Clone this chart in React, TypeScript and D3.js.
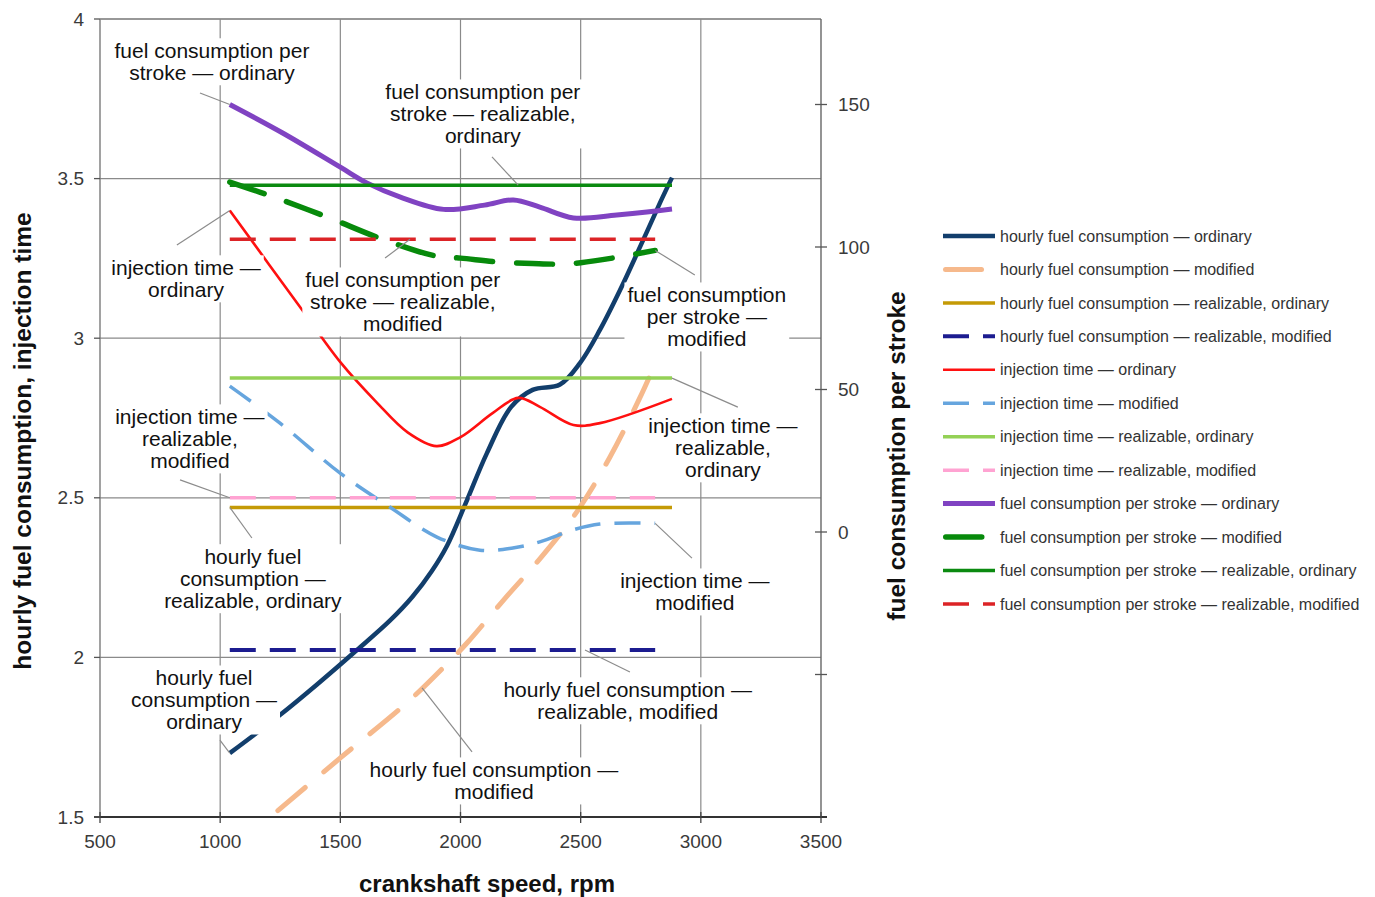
import React, { useEffect, useRef } from 'react';
import * as d3 from 'd3';

const W = 1375;
const H = 897;
const FONT = '"Liberation Sans", Arial, Helvetica, sans-serif';

// axis ticks
const rpmTicks = [500, 1000, 1500, 2000, 2500, 3000, 3500];
const leftTicks = [1.5, 2, 2.5, 3, 3.5, 4];
const rightTicks = [-50, 0, 50, 100, 150];

// hourly fuel consumption (left axis)
const hourlyOrdRpm = [1040, 1250, 1403, 1569, 1706, 1800, 1880, 1944, 2020, 2110, 2210, 2300, 2414, 2497, 2580, 2664, 2747, 2830, 2880];
const hourlyOrdVal = [1.70, 1.82, 1.915, 2.023, 2.115, 2.19, 2.27, 2.35, 2.48, 2.64, 2.784, 2.838, 2.855, 2.922, 3.026, 3.151, 3.286, 3.424, 3.503];
const hourlyModRpm = [1240, 1500, 1780, 1970, 2027, 2197, 2318, 2484, 2622, 2746, 2810];
const hourlyModVal = [1.52, 1.685, 1.86, 2.0, 2.045, 2.195, 2.298, 2.456, 2.628, 2.813, 2.92];
const hourlyRealOrdRpm = [1040, 2880];
const hourlyRealOrdVal = [2.47, 2.47];
const hourlyRealModRpm = [1040, 2810];
const hourlyRealModVal = [2.023, 2.023];

// injection time (left axis)
const injOrdRpm = [1040, 1330, 1500, 1650, 1780, 1900, 2000, 2135, 2240, 2330, 2470, 2580, 2880];
const injOrdVal = [3.40, 3.10, 2.925, 2.80, 2.705, 2.662, 2.69, 2.766, 2.813, 2.785, 2.728, 2.734, 2.81];
const injModRpm = [1040, 1249, 1498, 1706, 1902, 2081, 2218, 2330, 2470, 2580, 2810];
const injModVal = [2.85, 2.734, 2.578, 2.471, 2.377, 2.336, 2.343, 2.362, 2.40, 2.418, 2.42];
const injRealOrdRpm = [1040, 2880];
const injRealOrdVal = [2.875, 2.875];
const injRealModRpm = [1040, 2810];
const injRealModVal = [2.5, 2.5];

// fuel consumption per stroke (right axis)
const strokeOrdRpm = [1040, 1260, 1500, 1610, 1750, 1930, 2100, 2220, 2330, 2470, 2650, 2880];
const strokeOrdVal = [150, 140, 128, 122.5, 117.5, 113.2, 114.7, 116.5, 114, 110.2, 111.2, 113.3];
const strokeModRpm = [1040, 1200, 1440, 1680, 1900, 2000, 2160, 2300, 2430, 2500, 2660, 2810];
const strokeModVal = [122.8, 118.2, 110.7, 102.6, 96.8, 96.1, 94.7, 94.2, 94.0, 94.5, 96.5, 98.8];
const strokeRealOrdRpm = [1040, 2880];
const strokeRealOrdVal = [121.7, 121.7];
const strokeRealModRpm = [1040, 2810];
const strokeRealModVal = [102.7, 102.7];

type Axis = 'left' | 'right';
interface Series {
  key: string;
  name: string;
  rpm: number[];
  val: number[];
  axis: Axis;
  color: string;
  width: number;
  dash: string | null;
  cap: 'butt' | 'round';
}

const THIN_DASH = '26 14';
const THICK_DASH = '36 24';

const series: Series[] = [
  { key: 'hOrd', name: 'hourly fuel consumption — ordinary', rpm: hourlyOrdRpm, val: hourlyOrdVal, axis: 'left', color: '#123e6c', width: 4.5, dash: null, cap: 'butt' },
  { key: 'hMod', name: 'hourly fuel consumption — modified', rpm: hourlyModRpm, val: hourlyModVal, axis: 'left', color: '#f6b98c', width: 5, dash: THICK_DASH, cap: 'round' },
  { key: 'hRO', name: 'hourly fuel consumption — realizable, ordinary', rpm: hourlyRealOrdRpm, val: hourlyRealOrdVal, axis: 'left', color: '#c49a06', width: 3.5, dash: null, cap: 'butt' },
  { key: 'hRM', name: 'hourly fuel consumption — realizable, modified', rpm: hourlyRealModRpm, val: hourlyRealModVal, axis: 'left', color: '#1c1c90', width: 4, dash: THIN_DASH, cap: 'butt' },
  { key: 'iOrd', name: 'injection time — ordinary', rpm: injOrdRpm, val: injOrdVal, axis: 'left', color: '#ff1010', width: 2.6, dash: null, cap: 'butt' },
  { key: 'iMod', name: 'injection time — modified', rpm: injModRpm, val: injModVal, axis: 'left', color: '#66a5de', width: 3.5, dash: THIN_DASH, cap: 'butt' },
  { key: 'iRO', name: 'injection time — realizable, ordinary', rpm: injRealOrdRpm, val: injRealOrdVal, axis: 'left', color: '#94d156', width: 3.5, dash: null, cap: 'butt' },
  { key: 'iRM', name: 'injection time — realizable, modified', rpm: injRealModRpm, val: injRealModVal, axis: 'left', color: '#ffa3d2', width: 3.5, dash: THIN_DASH, cap: 'butt' },
  { key: 'sOrd', name: 'fuel consumption per stroke — ordinary', rpm: strokeOrdRpm, val: strokeOrdVal, axis: 'right', color: '#8043c2', width: 5, dash: null, cap: 'butt' },
  { key: 'sMod', name: 'fuel consumption per stroke — modified', rpm: strokeModRpm, val: strokeModVal, axis: 'right', color: '#078a0b', width: 5.5, dash: THICK_DASH, cap: 'round' },
  { key: 'sRO', name: 'fuel consumption per stroke — realizable, ordinary', rpm: strokeRealOrdRpm, val: strokeRealOrdVal, axis: 'right', color: '#0b8a10', width: 3.5, dash: null, cap: 'butt' },
  { key: 'sRM', name: 'fuel consumption per stroke — realizable, modified', rpm: strokeRealModRpm, val: strokeRealModVal, axis: 'right', color: '#dc2326', width: 3.5, dash: THIN_DASH, cap: 'butt' },
];

// callouts: text lines, text centre (rpm, left-axis value of first line),
// leader start (rpm, left value) and the series point it points to
interface Callout {
  lines: string[];
  cx: number;
  cy: number;
  fromRpm: number;
  fromVal: number;
  target: string;
  at: 'first' | 'last' | number;
}
const callouts: Callout[] = [
  { lines: ['fuel consumption per', 'stroke — ordinary'], cx: 966, cy: 3.900, fromRpm: 916, fromVal: 3.768, target: 'sOrd', at: 'first' },
  { lines: ['fuel consumption per', 'stroke — realizable,', 'ordinary'], cx: 2093, cy: 3.771, fromRpm: 2131, fromVal: 3.568, target: 'sRO', at: 2240 },
  { lines: ['injection time —', 'ordinary'], cx: 858, cy: 3.220, fromRpm: 820, fromVal: 3.292, target: 'iOrd', at: 'first' },
  { lines: ['fuel consumption per', 'stroke — realizable,', 'modified'], cx: 1760, cy: 3.182, fromRpm: 1686, fromVal: 3.251, target: 'sRM', at: 1790 },
  { lines: ['fuel consumption', 'per stroke —', 'modified'], cx: 3025, cy: 3.135, fromRpm: 2975, fromVal: 3.198, target: 'sMod', at: 'last' },
  { lines: ['injection time —', 'realizable,', 'modified'], cx: 874, cy: 2.753, fromRpm: 833, fromVal: 2.556, target: 'iRM', at: 'first' },
  { lines: ['injection time —', 'realizable,', 'ordinary'], cx: 3092, cy: 2.725, fromRpm: 3154, fromVal: 2.784, target: 'iRO', at: 'last' },
  { lines: ['hourly fuel', 'consumption —', 'realizable, ordinary'], cx: 1136, cy: 2.315, fromRpm: 1132, fromVal: 2.374, target: 'hRO', at: 'first' },
  { lines: ['injection time —', 'modified'], cx: 2975, cy: 2.239, fromRpm: 2963, fromVal: 2.311, target: 'iMod', at: 'last' },
  { lines: ['hourly fuel', 'consumption —', 'ordinary'], cx: 933, cy: 1.935, fromRpm: 999, fromVal: 1.741, target: 'hOrd', at: 'first' },
  { lines: ['hourly fuel consumption —', 'realizable, modified'], cx: 2696, cy: 1.898, fromRpm: 2705, fromVal: 1.954, target: 'hRM', at: 2518 },
  { lines: ['hourly fuel consumption —', 'modified'], cx: 2139, cy: 1.647, fromRpm: 2048, fromVal: 1.704, target: 'hMod', at: 1840 },
];

export default function App() {
  const ref = useRef<SVGSVGElement>(null);

  useEffect(() => {
    const svg = d3.select(ref.current);
    svg.selectAll('*').remove();

    const x = d3.scaleLinear().domain([500, 3500]).range([100, 821]);
    const yL = d3.scaleLinear().domain([1.5, 4]).range([817, 19]);
    const yR = d3.scaleLinear().domain([-100, 180]).range([817, 19]);
    const yOf = (s: Series) => (s.axis === 'left' ? yL : yR);
    const [x0, x1] = x.range();
    const [yB, yT] = yL.range();

    svg.append('rect').attr('width', W).attr('height', H).attr('fill', '#fff');

    // grid
    const grid = svg.append('g');
    grid.selectAll('line.v').data(rpmTicks.filter((t) => t > 500 && t < 3500)).join('line')
      .attr('x1', (d) => x(d)).attr('x2', (d) => x(d)).attr('y1', yT).attr('y2', yB)
      .attr('stroke', '#8a8a8a').attr('stroke-width', 1.2);
    grid.selectAll('line.h').data(leftTicks.filter((t) => t > 1.5)).join('line')
      .attr('x1', x0).attr('x2', x1).attr('y1', (d) => yL(d)).attr('y2', (d) => yL(d))
      .attr('stroke', '#8a8a8a').attr('stroke-width', 1.2);

    // series
    svg.append('clipPath').attr('id', 'plotClip').append('rect')
      .attr('x', x0).attr('y', yT).attr('width', x1 - x0).attr('height', yB - yT);
    const plot = svg.append('g').attr('clip-path', 'url(#plotClip)');
    series.forEach((s) => {
      const ys = yOf(s);
      const pts: [number, number][] = s.rpm.map((r, i) => [r, s.val[i]]);
      const line = d3.line<[number, number]>()
        .x((d) => x(d[0])).y((d) => ys(d[1]))
        .curve(d3.curveCatmullRom.alpha(0.5));
      plot.append('path').attr('d', line(pts) as string)
        .attr('fill', 'none').attr('stroke', s.color).attr('stroke-width', s.width)
        .attr('stroke-dasharray', s.dash ?? null)
        .attr('stroke-linecap', s.cap).attr('stroke-linejoin', 'round');
    });

    // callout leaders
    const byKey = new Map(series.map((s) => [s.key, s]));
    const leaders = svg.append('g');
    callouts.forEach((c) => {
      const s = byKey.get(c.target)!;
      let r: number;
      if (c.at === 'first') r = s.rpm[0];
      else if (c.at === 'last') r = s.rpm[s.rpm.length - 1];
      else r = c.at;
      const v = d3.scaleLinear().domain(s.rpm).range(s.val)(r);
      leaders.append('line')
        .attr('x1', x(c.fromRpm)).attr('y1', yL(c.fromVal))
        .attr('x2', x(r)).attr('y2', yOf(s)(v))
        .attr('stroke', '#8c8c8c').attr('stroke-width', 1.2);
    });

    // callout texts on white boxes
    const labels = svg.append('g');
    callouts.forEach((c) => {
      const g = labels.append('g');
      const box = g.append('rect').attr('fill', '#fff');
      const t = g.append('text')
        .attr('font-family', FONT).attr('font-size', 21).attr('fill', '#111')
        .attr('text-anchor', 'middle');
      c.lines.forEach((ln, i) => {
        t.append('tspan').attr('x', x(c.cx)).attr('y', yL(c.cy) + i * 22)
          .attr('dy', '0.35em').text(ln);
      });
      const bb = (t.node() as SVGTextElement).getBBox();
      box.attr('x', bb.x - 3).attr('y', bb.y - 1).attr('width', bb.width + 6).attr('height', bb.height + 2);
    });

    // axes frame
    const axes = svg.append('g');
    axes.append('line').attr('x1', x0).attr('x2', x0).attr('y1', yT).attr('y2', yB)
      .attr('stroke', '#7a7a7a').attr('stroke-width', 1.4);
    axes.append('line').attr('x1', x0).attr('x2', x1).attr('y1', yT).attr('y2', yT)
      .attr('stroke', '#8a8a8a').attr('stroke-width', 1.4);
    axes.append('line').attr('x1', x1).attr('x2', x1).attr('y1', yT).attr('y2', yB)
      .attr('stroke', '#666').attr('stroke-width', 1.4);
    axes.append('line').attr('x1', x0 - 6).attr('x2', x1 + 6).attr('y1', yB).attr('y2', yB)
      .attr('stroke', '#333').attr('stroke-width', 1.8);

    // left ticks + labels
    leftTicks.forEach((t) => {
      axes.append('line').attr('x1', x0 - 6).attr('x2', x0).attr('y1', yL(t)).attr('y2', yL(t))
        .attr('stroke', '#555').attr('stroke-width', 1.3);
      axes.append('text').attr('x', x0 - 16).attr('y', yL(t)).attr('dy', '0.35em')
        .attr('text-anchor', 'end').attr('font-family', FONT).attr('font-size', 19)
        .attr('fill', '#3a3a3a').text(d3.format('~g')(t));
    });
    // bottom ticks + labels
    rpmTicks.forEach((t) => {
      axes.append('line').attr('x1', x(t)).attr('x2', x(t)).attr('y1', yB - 5).attr('y2', yB + 6)
        .attr('stroke', '#444').attr('stroke-width', 1.3);
      axes.append('text').attr('x', x(t)).attr('y', yB + 24).attr('dy', '0.35em')
        .attr('text-anchor', 'middle').attr('font-family', FONT).attr('font-size', 19)
        .attr('fill', '#3a3a3a').text(String(t));
    });
    // right ticks + labels (negative part of the scale left unlabelled)
    rightTicks.forEach((t) => {
      axes.append('line').attr('x1', x1 - 6).attr('x2', x1 + 6).attr('y1', yR(t)).attr('y2', yR(t))
        .attr('stroke', '#555').attr('stroke-width', 1.3);
      if (t >= 0) {
        axes.append('text').attr('x', x1 + 17).attr('y', yR(t)).attr('dy', '0.35em')
          .attr('text-anchor', 'start').attr('font-family', FONT).attr('font-size', 19)
          .attr('fill', '#3a3a3a').text(String(t));
      }
    });

    // axis titles
    axes.append('text').attr('transform', 'translate(22,441) rotate(-90)')
      .attr('text-anchor', 'middle').attr('dy', '0.35em')
      .attr('font-family', FONT).attr('font-size', 24.5).attr('font-weight', 'bold').attr('fill', '#111')
      .text('hourly fuel consumption, injection time');
    axes.append('text').attr('x', 487).attr('y', 884).attr('dy', '0.35em')
      .attr('text-anchor', 'middle')
      .attr('font-family', FONT).attr('font-size', 24).attr('font-weight', 'bold').attr('fill', '#111')
      .text('crankshaft speed, rpm');
    axes.append('text').attr('transform', 'translate(896,456) rotate(-90)')
      .attr('text-anchor', 'middle').attr('dy', '0.35em')
      .attr('font-family', FONT).attr('font-size', 24.5).attr('font-weight', 'bold').attr('fill', '#111')
      .text('fuel consumption per stroke');

    // legend
    const legend = svg.append('g').attr('transform', 'translate(943,236)');
    series.forEach((s, i) => {
      const gy = i * 33.45;
      legend.append('line').attr('x1', s.cap === 'round' ? s.width / 2 : 0)
        .attr('x2', 52).attr('y1', gy).attr('y2', gy)
        .attr('stroke', s.color).attr('stroke-width', s.width)
        .attr('stroke-dasharray', s.dash ?? null).attr('stroke-linecap', s.cap);
      legend.append('text').attr('x', 57).attr('y', gy).attr('dy', '0.35em')
        .attr('font-family', FONT).attr('font-size', 16).attr('fill', '#333')
        .text(s.name);
    });
  }, []);

  return (
    <div style={{ position: 'absolute', left: 0, top: 0 }}>
      <svg ref={ref} width={W} height={H} style={{ display: 'block' }} />
    </div>
  );
}
